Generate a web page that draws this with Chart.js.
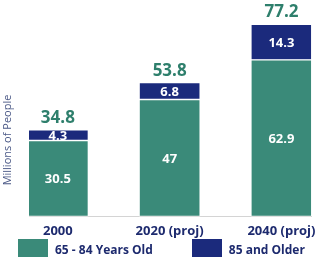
<!DOCTYPE html>
<html>
<head>
<meta charset="utf-8">
<script src="https://cdn.jsdelivr.net/npm/chart.js"></script>
<style>
  html, body { margin: 0; padding: 0; background: #fff; }
  #wrap { position: relative; width: 323px; height: 257px; overflow: hidden; }
  #legend { position: absolute; left: 18px; top: 239px; display: flex; gap: 39px;
            font: bold 12px "Open Sans", sans-serif; color: #1d2a6e; }
  .item { display: flex; align-items: center; gap: 7px; }
  .box { width: 30px; height: 20px; }
</style>
</head>
<body>
<div id="wrap">
  <canvas id="agingChart" width="323" height="257"></canvas>
  <div id="legend"></div>
</div>
<script>

var categories = ["2000", "2020 (proj)", "2040 (proj)"];
var seriesNames = ["65 - 84 Years Old", "85 and Older"];
var ages65to84 = [30.5, 47, 62.9];
var ages85plus = [4.3, 6.8, 14.3];
var totals = [34.8, 53.8, 77.2];
var axisTitle = "Millions of People";

var green = "#3a8a79";
var navy = "#1b2a7c";

function points(values){
  return values.map(function(v, i){ return {x: i, y: v}; });
}

// white numbers inside the segments, green totals on top
var barLabels = {
  id: "barLabels",
  afterDatasetsDraw: function(chart){
    var ctx = chart.ctx;
    ctx.save();
    ctx.textAlign = "center";
    ctx.textBaseline = "middle";
    ctx.fillStyle = "#fff";
    ctx.font = "bold 13px 'Open Sans'";
    chart.data.datasets.forEach(function(ds, d){
      chart.getDatasetMeta(d).data.forEach(function(bar, i){
        ctx.fillText(String(ds.data[i].y), bar.x, (bar.y + bar.base) / 2 + 1);
      });
    });
    var tops = chart.getDatasetMeta(chart.data.datasets.length - 1).data;
    ctx.fillStyle = "#2e7f6c";
    ctx.font = "bold 17px 'Open Sans'";
    ctx.textBaseline = "alphabetic";
    tops.forEach(function(bar, i){
      ctx.fillText(totals[i].toFixed(1), bar.x, bar.y - 7);
    });
    ctx.restore();
  }
};

var yTitle = {
  id: "yTitle",
  afterDraw: function(chart){
    var ctx = chart.ctx;
    ctx.save();
    ctx.translate(8, 140);
    ctx.rotate(-Math.PI / 2);
    ctx.textAlign = "center";
    ctx.textBaseline = "middle";
    ctx.fillStyle = "#4a5886";
    ctx.font = "11px 'Open Sans'";
    ctx.fillText(axisTitle, 0, 0);
    ctx.restore();
  }
};

function init(){
  var ctx = document.getElementById("agingChart").getContext("2d");
  var chart = new Chart(ctx, {
    type: "bar",
    data: {
      datasets: [{
        label: seriesNames[0],
        data: points(ages65to84),
        backgroundColor: green,
        borderColor: "#fff",
        borderWidth: 1,
        borderSkipped: false
      }, {
        label: seriesNames[1],
        data: points(ages85plus),
        backgroundColor: navy,
        borderColor: "#fff",
        borderWidth: 1,
        borderSkipped: false
      }]
    },
    options: {
      responsive: false,
      animation: false,
      barThickness: 61,
      layout: { padding: { left: 29, right: 5, top: 0, bottom: 11 } },
      plugins: { legend: { display: false }, tooltip: { enabled: false } },
      scales: {
        x: {
          type: "linear",
          stacked: true,
          offset: false,
          min: -0.258,
          max: 2.266,
          afterBuildTicks: function(scale){
            scale.ticks = categories.map(function(c, i){ return {value: i}; });
          },
          grid: { display: false, drawTicks: false, offset: false },
          border: { color: "#d4d4d4" },
          ticks: {
            padding: 7,
            color: "#1d2a6e",
            font: { family: "Open Sans", weight: "bold", size: 13 },
            callback: function(v){ return categories[v]; }
          }
        },
        y: {
          stacked: true,
          display: false,
          min: 0,
          max: 87
        }
      }
    },
    plugins: [barLabels, yTitle]
  });

  // html legend from the series
  var legend = document.getElementById("legend");
  [green, navy].forEach(function(col, i){
    var item = document.createElement("div");
    item.className = "item";
    var box = document.createElement("span");
    box.className = "box";
    box.style.background = col;
    var txt = document.createElement("span");
    txt.textContent = seriesNames[i];
    item.appendChild(box);
    item.appendChild(txt);
    legend.appendChild(item);
  });
}

init();
</script>
</body>
</html>
